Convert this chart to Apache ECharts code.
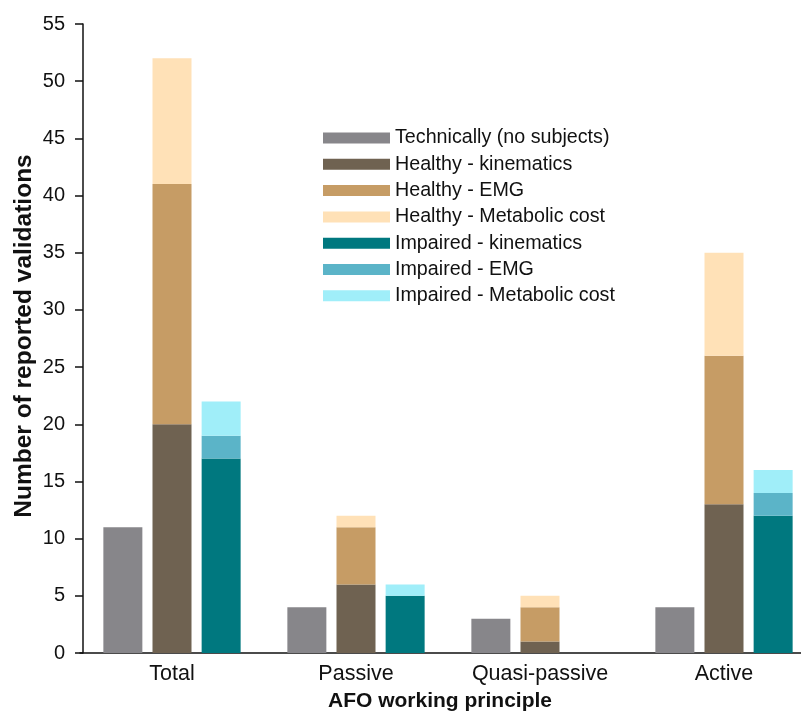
<!DOCTYPE html>
<html>
<head>
<meta charset="utf-8">
<script src="https://cdn.jsdelivr.net/npm/echarts@6/dist/echarts.min.js"></script>
<style>html,body{margin:0;padding:0;background:#fff}#c{width:801px;height:716px}</style>
</head>
<body>
<div id="c"></div>
<script>
const categories = ['Total', 'Passive', 'Quasi-passive', 'Active'];
const technically = [11, 4, 3, 4];
const healthyKinematics = [20, 6, 1, 13];
const healthyEMG = [21, 5, 3, 13];
const healthyMetabolic = [11, 1, 1, 9];
const impairedKinematics = [17, 5, 0, 12];
const impairedEMG = [2, 0, 0, 2];
const impairedMetabolic = [3, 1, 0, 2];
const yTicks = [0, 5, 10, 15, 20, 25, 30, 35, 40, 45, 50, 55];

const colors = {
  tech: '#87868a',
  hKin: '#6f6251',
  hEMG: '#c69c65',
  hMet: '#ffe1b7',
  iKin: '#00787f',
  iEMG: '#5bb4c8',
  iMet: '#a0eef9'
};
const font = 'Liberation Sans, Arial, sans-serif';
function bar(name, data, stack, color) {
  return {
    name: name, type: 'bar', stack: stack, data: data,
    barWidth: 39, barGap: '26%',
    itemStyle: { color: color },
    emphasis: { disabled: true }
  };
}
const chart = echarts.init(document.getElementById('c'), null, { renderer: 'canvas' });
chart.setOption({
  animation: false,
  backgroundColor: '#fff',
  textStyle: { fontFamily: font },
  grid: { left: 80, top: 24, width: 736, bottom: 63, containLabel: false, outerBoundsMode: 'none' },
  legend: {
    orient: 'vertical', left: 323, top: 128, padding: 0,
    itemWidth: 67, itemHeight: 11, itemGap: 6.3,
    icon: 'rect',
    textStyle: { fontSize: 19.7, color: '#111', fontFamily: font, lineHeight: 20 },
    data: ['Technically (no subjects)', 'Healthy - kinematics', 'Healthy - EMG', 'Healthy - Metabolic cost',
           'Impaired - kinematics', 'Impaired - EMG', 'Impaired - Metabolic cost']
  },
  xAxis: {
    type: 'category', data: categories,
    name: 'AFO working principle', nameLocation: 'middle', nameGap: 38, nameMoveOverlap: false,
    nameTextStyle: { fontSize: 21, fontWeight: 'bold', color: '#111', fontFamily: font, padding: [0, 16, 0, 0] },
    axisLine: { lineStyle: { color: '#111', width: 1.5 } },
    axisTick: { alignWithLabel: true, length: 7, lineStyle: { color: '#111', width: 1.5 } },
    axisLabel: { fontSize: 21.5, color: '#111', margin: 10, fontFamily: font }
  },
  yAxis: {
    type: 'value', min: 0, max: 55, interval: 5, offset: -3,
    name: 'Number of reported validations', nameLocation: 'middle', nameGap: 46, nameMoveOverlap: false,
    nameTextStyle: { fontSize: 24.5, fontWeight: 'bold', color: '#111', fontFamily: font, padding: [0, 0, 0, 5] },
    axisLine: { show: true, lineStyle: { color: '#111', width: 1.5 } },
    axisTick: { show: true, length: 8, lineStyle: { color: '#111', width: 1.5 } },
    axisLabel: { fontSize: 20, color: '#111', margin: 18, fontFamily: font,
      formatter: v => yTicks.includes(v) ? String(v) : '' },
    splitLine: { show: false }
  },
  series: [
    bar('Technically (no subjects)', technically, 'tech', colors.tech),
    bar('Healthy - kinematics', healthyKinematics, 'healthy', colors.hKin),
    bar('Healthy - EMG', healthyEMG, 'healthy', colors.hEMG),
    bar('Healthy - Metabolic cost', healthyMetabolic, 'healthy', colors.hMet),
    bar('Impaired - kinematics', impairedKinematics, 'impaired', colors.iKin),
    bar('Impaired - EMG', impairedEMG, 'impaired', colors.iEMG),
    bar('Impaired - Metabolic cost', impairedMetabolic, 'impaired', colors.iMet)
  ]
});
</script>
</body>
</html>
